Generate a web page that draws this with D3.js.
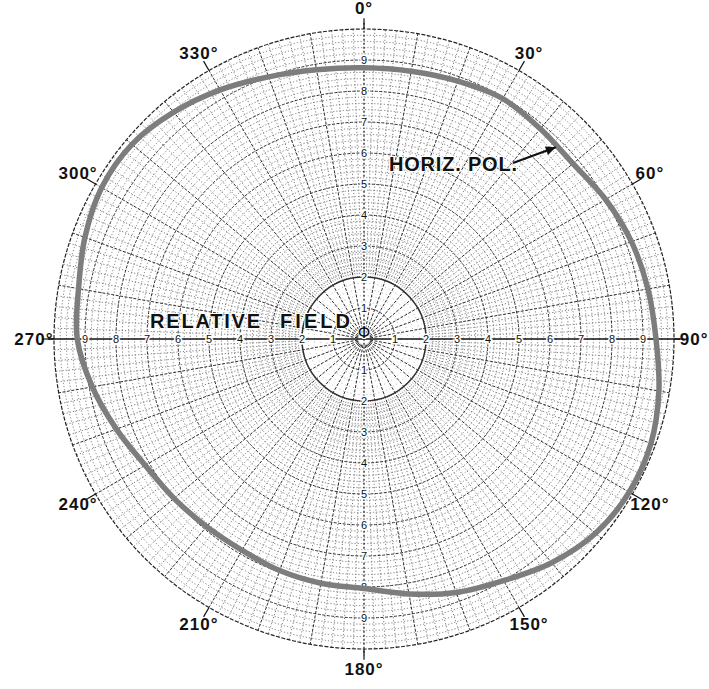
<!DOCTYPE html>
<html><head><meta charset="utf-8">
<script src="https://cdn.jsdelivr.net/npm/d3@7/dist/d3.min.js"></script>
<style>body{margin:0;background:#fff}svg{display:block}</style>
</head><body>
<svg id="chart" width="709" height="689"></svg>
<script>
// ---- data ----
const patternAngles = [0,10,20,30,40,50,60,70,80,90,100,110,120,130,140,150,160,170,
                       180,190,200,210,220,230,240,250,260,270,280,290,300,310,320,330,340,350];
const patternField  = [0.875,0.877,0.885,0.895,0.885,0.880,0.900,0.918,0.930,0.942,0.966,0.985,
                       0.988,0.975,0.942,0.900,0.870,0.835,0.805,0.800,0.795,0.787,0.790,0.800,
                       0.815,0.850,0.890,0.925,0.935,0.958,0.977,0.977,0.955,0.928,0.900,0.882];
const degreeAngles = [0,30,60,90,120,150,180,210,240,270,300,330];
const degreeLabels = ["0°","30°","60°","90°","120°","150°","180°","210°","240°","270°","300°","330°"];
const ringValues = [0.1,0.2,0.3,0.4,0.5,0.6,0.7,0.8,0.9];
const ringLabels = ["1","2","3","4","5","6","7","8","9"];
const seriesLabel = "HORIZ. POL.";
const seriesArrowAngle = 45;       // where the arrow points on the pattern
const seriesArrowField = 0.875;
const axisTitleWords = ["RELATIVE","FIELD"];
const centerMark = "Φ";

// ---- layout ----
const cx = 364, cy = 339, R = 310;
const svg = d3.select("#chart");
const r = d3.scaleLinear().domain([0, 1]).range([0, R]);
const rad = d => d * Math.PI / 180;
const px = (deg, v) => r(v) * Math.sin(rad(deg));
const py = (deg, v) => -r(v) * Math.cos(rad(deg));

const g = svg.append("g").attr("transform", `translate(${cx},${cy})`);
const grid = g.append("g").attr("fill", "none");

// fine circles every 0.02
const fineRings = d3.range(0.02, 1.0001, 0.02).filter(v => Math.abs(v * 10 - Math.round(v * 10)) > 1e-6);
grid.selectAll("circle.fine").data(fineRings.filter(v => v > 0.19)).join("circle")
  .attr("r", d => r(d)).attr("stroke", "#6e6e6e").attr("stroke-width", 0.9)
  .attr("stroke-dasharray", "1.2 2");
grid.selectAll("circle.fineIn").data(fineRings.filter(v => v < 0.19)).join("circle")
  .attr("r", d => r(d)).attr("stroke", "#a0a0a0").attr("stroke-width", 0.8)
  .attr("stroke-dasharray", "1 3");

// fine radials every 2 degrees (outer band)
const fineSpokes = d3.range(0, 360, 2).filter(a => a % 10 !== 0);
grid.selectAll("line.fine").data(fineSpokes).join("line")
  .attr("x1", d => px(d, 0.2)).attr("y1", d => py(d, 0.2))
  .attr("x2", d => px(d, 1)).attr("y2", d => py(d, 1))
  .attr("stroke", "#6e6e6e").attr("stroke-width", 0.9).attr("stroke-dasharray", "1.2 2");

// main radials every 10 degrees
const mainSpokes = d3.range(0, 360, 10).filter(a => a % 90 !== 0);
grid.selectAll("line.main").data(mainSpokes).join("line")
  .attr("x1", d => px(d, 0.02)).attr("y1", d => py(d, 0.02))
  .attr("x2", d => px(d, 1)).attr("y2", d => py(d, 1))
  .attr("stroke", "#2e2e2e").attr("stroke-width", 1).attr("stroke-dasharray", "3 1.5");

// main circles every 0.1
grid.selectAll("circle.main").data(ringValues).join("circle")
  .attr("r", d => r(d)).attr("stroke", "#2e2e2e")
  .attr("stroke-width", d => d === 0.2 ? 1.4 : 1)
  .attr("stroke-dasharray", d => d === 0.2 ? null : "3 1.5");

// outer circle
grid.append("circle").attr("r", r(1)).attr("stroke", "#222").attr("stroke-width", 1.2)
  .attr("stroke-dasharray", "4 1.5");

// axes
grid.append("line").attr("x1", -r(1.02)).attr("x2", r(1.02)).attr("y1", 0).attr("y2", 0)
  .attr("stroke", "#111").attr("stroke-width", 1.3);
grid.append("line").attr("y1", -r(1.02)).attr("y2", r(1.02)).attr("x1", 0).attr("x2", 0)
  .attr("stroke", "#111").attr("stroke-width", 1.2).attr("stroke-dasharray", "2 2");

// ticks at degree labels
grid.selectAll("line.tick").data(degreeAngles).join("line")
  .attr("x1", d => px(d, 1)).attr("y1", d => py(d, 1))
  .attr("x2", d => px(d, 1.035)).attr("y2", d => py(d, 1.035))
  .attr("stroke", "#111").attr("stroke-width", 1.2);

// ring labels on the four half-axes
const ringG = g.append("g").attr("font-family", "Liberation Sans, Arial, sans-serif")
  .attr("font-size", 11).attr("fill", "#111").attr("text-anchor", "middle")
  .attr("dominant-baseline", "central")
  .attr("stroke", "#fff").attr("stroke-width", 3).attr("paint-order", "stroke");
[90, 270, 0, 180].forEach(dir => {
  ringG.selectAll(null).data(ringValues).join("text")
    .attr("x", (d) => px(dir, d)).attr("y", (d) => py(dir, d))
    .text((d, i) => ringLabels[i]);
});

// pattern curve
const line = d3.lineRadial()
  .angle(d => rad(d[0])).radius(d => r(d[1]))
  .curve(d3.curveCatmullRomClosed.alpha(0.5));
const pts = patternAngles.map((a, i) => [a, patternField[i]]);
g.append("path").attr("d", line(pts)).attr("fill", "none")
  .attr("stroke", "#7d7d7d").attr("stroke-width", 5.5);

// degree labels
g.append("g").attr("font-family", "Liberation Sans, Arial, sans-serif")
  .attr("font-size", 17).attr("font-weight", "bold").attr("fill", "#111")
  .attr("text-anchor", "middle").attr("dominant-baseline", "central")
  .selectAll("text").data(degreeAngles).join("text")
  .attr("x", d => px(d, 1.065)).attr("y", d => py(d, 1.065))
  .attr("letter-spacing", 1)
  .text((d, i) => degreeLabels[i]);

// center mark
g.append("text").attr("x", 0).attr("y", -7).attr("text-anchor", "middle")
  .attr("dominant-baseline", "central").attr("font-family", "DejaVu Sans, sans-serif")
  .attr("font-size", 16).attr("fill", "#111")
  .attr("stroke", "#fff").attr("stroke-width", 2).attr("paint-order", "stroke").text(centerMark);

// axis title "RELATIVE FIELD"
const titleG = g.append("g").attr("font-family", "Liberation Sans, Arial, sans-serif")
  .attr("font-size", 20).attr("font-weight", "bold").attr("fill", "#111")
  .attr("stroke", "#fff").attr("stroke-width", 2).attr("paint-order", "stroke");
titleG.append("text").attr("x", 150 - cx).attr("y", 328 - cy)
  .attr("textLength", 110).attr("lengthAdjust", "spacing").text(axisTitleWords[0]);
titleG.append("text").attr("x", 280 - cx).attr("y", 328 - cy)
  .attr("textLength", 70).attr("lengthAdjust", "spacing").text(axisTitleWords[1]);

// series label with arrow
const lab = g.append("g").attr("font-family", "Liberation Sans, Arial, sans-serif")
  .attr("font-size", 20).attr("font-weight", "bold").attr("fill", "#111")
  .attr("stroke", "#fff").attr("stroke-width", 2).attr("paint-order", "stroke");
lab.append("text").attr("x", 389 - cx).attr("y", 171 - cy)
  .attr("textLength", 128).attr("lengthAdjust", "spacing").text(seriesLabel);
const tipX = px(seriesArrowAngle, seriesArrowField), tipY = py(seriesArrowAngle, seriesArrowField);
const sx = 513 - cx, sy = 163 - cy;
g.append("line").attr("x1", sx).attr("y1", sy).attr("x2", tipX).attr("y2", tipY)
  .attr("stroke", "#111").attr("stroke-width", 2.2);
const ang = Math.atan2(tipY - sy, tipX - sx);
const ah = 10, aw = 4.5;
const p1 = [tipX, tipY];
const p2 = [tipX - ah * Math.cos(ang) + aw * Math.sin(ang), tipY - ah * Math.sin(ang) - aw * Math.cos(ang)];
const p3 = [tipX - ah * Math.cos(ang) - aw * Math.sin(ang), tipY - ah * Math.sin(ang) + aw * Math.cos(ang)];
g.append("path").attr("d", `M${p1}L${p2}L${p3}Z`).attr("fill", "#111");
</script>
</body></html>
